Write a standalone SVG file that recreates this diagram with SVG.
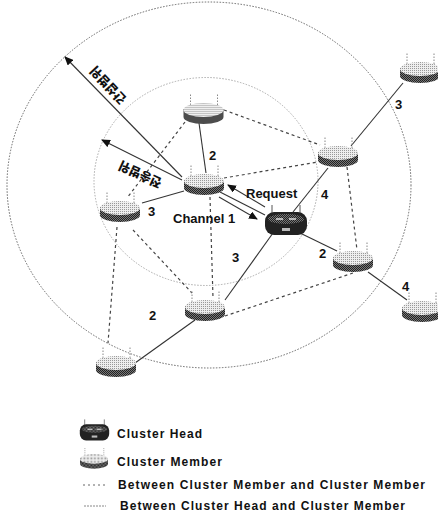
<svg xmlns="http://www.w3.org/2000/svg" width="438" height="518" viewBox="0 0 438 518">
<style>
text{font-family:"Liberation Sans",Arial,sans-serif;font-weight:700;fill:#111}
.n{font-size:13px}
.l{font-size:12px}
.k{font-family:"Noto Sans CJK KR",sans-serif;font-size:12.500px;font-weight:900}
.range{fill:none;stroke:#666;stroke-width:1;stroke-dasharray:1.5 1.5}
.inner{stroke:#aaa}
.s{stroke:#333;stroke-width:1.100;fill:none}
.d{stroke:#444;stroke-width:1.200;stroke-dasharray:3 3;fill:none}
.ld{stroke:#666;stroke-width:1;stroke-dasharray:2 3;fill:none}
.ls{stroke:#888;stroke-width:1;stroke-dasharray:2 1;fill:none}
</style>
<defs>
<marker id="ah" markerWidth="9" markerHeight="8" refX="8" refY="4" orient="auto" markerUnits="userSpaceOnUse"><path d="M0 0L9 4L0 8Z" fill="#111"/></marker>
<pattern id="lt" width="2" height="2" patternUnits="userSpaceOnUse"><rect width="2" height="2" fill="#eee"/><rect width="1" height="1" fill="#999"/></pattern>
<pattern id="dk" width="2" height="2" patternUnits="userSpaceOnUse"><rect width="2" height="2" fill="#777"/><rect width="1" height="1" fill="#222"/><rect x="1" y="1" width="1" height="1" fill="#222"/></pattern>
<g id="mem">
<path d="M-13 -5V-20M14 -5V-20" stroke="#888" stroke-width="1" stroke-dasharray="1.5 1.5" fill="none"/>
<path d="M-20 -4V4A20 7 0 0 0 20 4V-4Z" fill="url(#dk)"/>
<ellipse cy="-3" rx="20" ry="7" fill="url(#lt)"/>
</g>
<g id="hd">
<path d="M-14 -10V-18M14 -10V-18" stroke="#555" stroke-width="1" fill="none"/>
<rect x="-21" y="-11" width="42" height="23" rx="9" fill="#222"/>
<ellipse cy="-4" rx="18" ry="5" fill="url(#dk)"/>
<path d="M-10 -4H-3M3 -4H10" stroke="#ddd" stroke-width="1.500"/>
<rect x="-4" y="5" width="8" height="3" fill="#bbb"/>
</g>
</defs>
<rect width="438" height="518" fill="#fff"/>
<g id="ranges">
<ellipse class="range" cx="209" cy="185" rx="202" ry="183"/>
<ellipse class="range inner" cx="206" cy="181.500" rx="112" ry="104"/>
</g>
<g id="connectors">
<path class="s" d="M199 123L206 173"/>
<path class="s" d="M184 191L142 203"/>
<path class="s" d="M293 212L328 168"/>
<path class="s" d="M273 233L225 300"/>
<path class="s" d="M195 320L135 363"/>
<path class="s" d="M300 233L337 251"/>
<path class="s" d="M368 272L407 300"/>
<path class="s" d="M351 146L403 83"/>
<path class="s" d="M220 192L265 215"/>
<path class="s" d="M219 197L257 219" marker-end="url(#ah)"/>
<path class="s" d="M265 207L228 185" marker-end="url(#ah)"/>
<path class="s" d="M182 177L65 57" marker-end="url(#ah)"/>
<path class="s" d="M182 180L102 140" marker-end="url(#ah)"/>
<path class="d" d="M224 110L320 145"/>
<path class="d" d="M224 178L318 162"/>
<path class="d" d="M185 122L127 198"/>
<path class="d" d="M210 197L213 298"/>
<path class="d" d="M133 230L192 293"/>
<path class="d" d="M117 227L108 343"/>
<path class="d" d="M225 316L353 273"/>
<path class="d" d="M347 167L357 250"/>
</g>
<g id="node-top"><use href="#mem" x="203.500" y="113"/></g>
<g id="node-center"><use href="#mem" x="204" y="184"/></g>
<g id="node-left"><use href="#mem" x="120" y="211"/></g>
<g id="node-right-top"><use href="#mem" x="338" y="156"/></g>
<g id="node-head"><use href="#hd" x="286" y="223"/></g>
<g id="node-right-lower"><use href="#mem" x="353" y="261"/></g>
<g id="node-far-right"><use href="#mem" x="422" y="311"/></g>
<g id="node-top-right"><use href="#mem" x="420" y="72"/></g>
<g id="node-lower"><use href="#mem" x="205" y="310"/></g>
<g id="node-far-lower"><use href="#mem" x="116" y="366"/></g>
<g id="labels">
<text class="n" x="209" y="160">2</text>
<text class="n" x="148" y="216">3</text>
<text class="n" x="173" y="223">Channel 1</text>
<text class="n" x="246" y="198">Request</text>
<text class="n" x="321" y="199">4</text>
<text class="n" x="319" y="258">2</text>
<text class="n" x="402" y="291">4</text>
<text class="n" x="395" y="109">3</text>
<text class="n" x="232" y="262">3</text>
<text class="n" x="149" y="320">2</text>
<text class="k" transform="translate(127 99) rotate(227)">간섭범위</text>
<text class="k" transform="translate(163 180) rotate(205)">전송범위</text>
</g>
<g id="legend">
<g id="legend-head"><use href="#hd" transform="translate(94.500 432) scale(.7)"/></g>
<g id="legend-member"><use href="#mem" transform="translate(94 461) scale(.7)"/></g>
<path class="ld" d="M83 485H105"/>
<path class="ls" d="M84 506H106"/>
<text class="l" x="117" y="438" textLength="85">Cluster Head</text>
<text class="l" x="117" y="466" textLength="105">Cluster Member</text>
<text class="l" x="118" y="489" textLength="307">Between Cluster Member and Cluster Member</text>
<text class="l" x="120" y="510" textLength="285">Between Cluster Head and Cluster Member</text>
</g>
</svg>
